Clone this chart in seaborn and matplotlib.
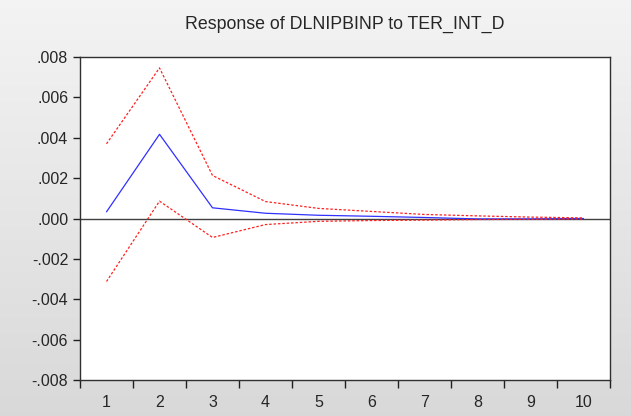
import numpy as np
import pandas as pd
import seaborn as sns
import matplotlib.pyplot as plt
from matplotlib.ticker import FuncFormatter, FixedLocator

# periodos e respostas ao impulso
periodos = [1, 2, 3, 4, 5, 6, 7, 8, 9, 10]
resposta = [0.00033, 0.00417, 0.00053, 0.00026, 0.00016, 0.00011, 0.00005, -0.00002, -0.00002, 0.0]
banda_sup = [0.0037, 0.00746, 0.00213, 0.00084, 0.0005, 0.00035, 0.0002, 0.00013, 0.00007, 0.00003]
banda_inf = [-0.00312, 0.00086, -0.00094, -0.0003, -0.00014, -0.0001, -0.00008, -0.00005, -0.00004, -0.00002]
y_ticks = [-0.008, -0.006, -0.004, -0.002, 0.0, 0.002, 0.004, 0.006, 0.008]

sns.set_style('ticks')
plt.rcParams['font.family'] = ['Arial', 'Liberation Sans', 'DejaVu Sans']

fig = plt.figure(figsize=(6.31, 4.16), dpi=100)

# fundo cinza em degradê
bg = fig.add_axes([0, 0, 1, 1], zorder=-10)
grad = np.linspace(0.955, 0.85, 256).reshape(-1, 1)
bg.imshow(np.dstack([grad, grad, grad]), aspect='auto', extent=[0, 1, 0, 1])
bg.axis('off')

ax = fig.add_axes([0.1268, 0.0865, 0.8399, 0.7765])
ax.set_facecolor('white')

sns.lineplot(x=periodos, y=resposta, ax=ax, color='#3030ff', linewidth=0.9)
sns.lineplot(x=periodos, y=banda_sup, ax=ax, color='#ff2020', linewidth=0.9, linestyle=(0, (2, 1.5)))
sns.lineplot(x=periodos, y=banda_inf, ax=ax, color='#ff2020', linewidth=0.9, linestyle=(0, (2, 1.5)))
ax.axhline(0, color='#404040', linewidth=1.0, zorder=1)

ax.set_xlim(0.5, 10.5)
ax.set_ylim(-0.008, 0.008)
ax.set_yticks(y_ticks)
ax.yaxis.set_major_formatter(FuncFormatter(lambda v, p: ('%.3f' % v).replace('0.', '.').replace('-.000', '.000')))
ax.set_xticks(periodos)
ax.set_xticklabels([str(p) for p in periodos])
ax.xaxis.set_minor_locator(FixedLocator(np.arange(0.5, 11, 1)))
ax.tick_params(axis='x', which='major', length=0, pad=11, labelsize=11.5)
ax.tick_params(axis='x', which='minor', length=6, width=1, direction='out', color='#202020')
ax.tick_params(axis='y', length=5, width=1, direction='out', labelsize=11.5, color='#202020')

for s in ax.spines.values():
    s.set_color('#303030')
    s.set_linewidth(1.0)

ax.set_title('Response of DLNIPBINP to TER_INT_D', fontsize=12.8, pad=20)

fig.savefig('out.png', dpi=100)
